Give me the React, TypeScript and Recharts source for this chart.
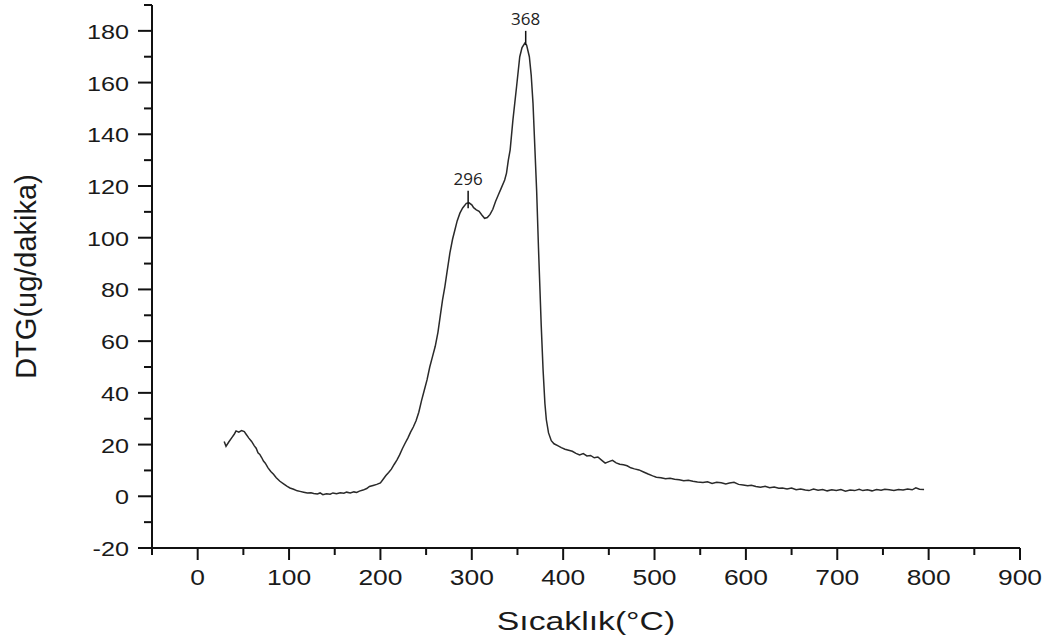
import { LineChart, Line, XAxis, YAxis, ReferenceLine } from 'recharts';

// Sıcaklık (°C)
const temps = [
  29, 31, 34, 37, 40, 42, 45, 48, 51, 53, 56, 59, 62, 64, 66, 68, 70, 72, 74, 77,
  80, 83, 86, 90, 94, 98, 101, 105, 109, 112, 116, 120, 124, 127, 131, 134, 137, 141, 145, 148,
  152, 156, 160, 163, 167, 171, 174, 177, 181, 185, 188, 192, 196, 200, 203, 206, 209, 212, 215, 218,
  221, 224, 227, 230, 233, 236, 239, 242, 245, 248, 251, 254, 257, 260, 263, 266, 268, 270.5, 273, 276,
  279, 281.5, 284, 287, 290, 294, 297, 300, 302, 305, 308, 311, 314, 317, 320, 323, 326, 329, 332, 336,
  338, 340, 342, 345, 349, 352.5, 355, 358, 360, 363, 365, 367, 369, 371, 373, 374.5, 376, 378, 380, 381.6,
  384, 387, 390, 394, 398, 402, 406, 410, 414, 418, 422, 426, 430, 434, 438, 442, 446, 450, 454, 458,
  462, 466, 470, 474, 478, 483, 488, 493, 498, 502, 507, 512, 517, 522, 527, 532, 537, 542, 547, 553,
  558, 563, 568, 573, 578, 582, 587, 592, 597, 602, 606, 611, 616, 621, 626, 631, 636, 640, 645, 650,
  655, 660, 665, 669, 674, 679, 684, 689, 694, 699, 704, 709, 714, 719, 724, 728, 733, 738, 743, 748,
  752, 757, 762, 767, 772, 777, 782, 786, 790, 795,
];

// DTG (ug/dakika)
const dtg = [
  21.2, 19.3, 21, 22.5, 24, 25.3, 24.8, 25.4, 25, 24, 22.5, 21.2, 19.5, 18.6, 16.8, 16.2, 15, 13.6, 12.8, 11,
  9.6, 8.5, 7.2, 5.8, 4.8, 3.8, 3.2, 2.7, 2.1, 1.9, 1.6, 1.3, 1.4, 1.1, 0.9, 1.3, 0.6, 1.0, 0.8, 1.3,
  1.0, 1.4, 1.2, 1.6, 1.3, 1.7, 1.5, 2.0, 2.4, 3.0, 3.8, 4.2, 4.6, 5.2, 6.6, 8.0, 9.2, 10.5, 12.3, 14.0,
  16.0, 18.4, 20.5, 22.5, 24.8, 26.8, 29.2, 32.5, 37, 41, 45, 50, 54, 58, 63.5, 71, 76, 81, 87, 94,
  99.5, 103, 106.5, 109.5, 111.5, 113.3, 113.5, 112.7, 111.6, 110.8, 110.2, 108.8, 107.5, 107.8, 109, 111, 114, 116.5, 119, 122.3,
  125, 130, 134, 145.5, 158.4, 170, 173.5, 175.2, 174.5, 170, 163, 152, 135, 118, 96, 81, 66, 49, 36, 29.6,
  24.5, 21.5, 20.3, 19.6, 18.8, 18.2, 17.8, 17.4, 16.6, 16.0, 16.5, 15.6, 15.8, 14.9, 15.2, 14.0, 12.8, 13.4, 13.9, 12.9,
  12.4, 12.2, 11.8, 11.0, 10.6, 10.2, 9.4, 8.6, 7.9, 7.4, 7.2, 6.8, 7.0, 6.6, 6.4, 6.0, 6.2, 5.8, 5.5, 5.3,
  5.6, 5.0, 5.4, 5.2, 4.8, 5.1, 5.4, 4.6, 4.4, 4.1, 4.3, 3.8, 3.5, 3.9, 3.3, 3.6, 3.1, 3.2, 2.8, 3.2,
  2.5, 2.8, 2.4, 2.2, 2.8, 2.3, 2.6, 2.1, 2.5, 2.2, 2.6, 2.0, 2.4, 2.2, 2.7, 2.2, 2.5, 2.1, 2.6, 2.3,
  2.7, 2.5, 2.2, 2.6, 2.4, 2.8, 2.5, 3.3, 2.7, 2.6,
];

const xTicks = [-50, 0, 50, 100, 150, 200, 250, 300, 350, 400, 450, 500, 550, 600, 650, 700, 750, 800, 850, 900];
const xMajor = [0, 100, 200, 300, 400, 500, 600, 700, 800, 900];
const yTicks = [-20, -10, 0, 10, 20, 30, 40, 50, 60, 70, 80, 90, 100, 110, 120, 130, 140, 150, 160, 170, 180, 190];
const yMajor = [-20, 0, 20, 40, 60, 80, 100, 120, 140, 160, 180];

// peak markers
const peakLabels = ['296', '368'];
const peakX = [296, 359];
const peakLow = [111.4, 174.5];
const peakHigh = [118.2, 180];

const data = temps.map((t, i) => ({ t, v: dtg[i] }));

const FONT = '"Liberation Sans", Arial, sans-serif';
const INK = '#111';

function XTick(props: any) {
  const { x, y, payload } = props;
  const major = xMajor.includes(payload.value);
  return (
    <g>
      <line x1={x} y1={y} x2={x} y2={y + (major ? 12 : 7)} stroke={INK} strokeWidth={2} />
      {major && (
        <text
          transform={`translate(${x},${y + 37}) scale(1.2,1)`}
          textAnchor="middle"
          fontSize={22}
          fontFamily={FONT}
          fill="#1a1a1a"
        >
          {payload.value}
        </text>
      )}
    </g>
  );
}

function YTick(props: any) {
  const { x, y, payload } = props;
  const major = yMajor.includes(payload.value);
  return (
    <g>
      <line x1={x - (major ? 14 : 8)} y1={y} x2={x} y2={y} stroke={INK} strokeWidth={2} />
      {major && (
        <text
          transform={`translate(${x - 23},${y + 8}) scale(1.2,1)`}
          textAnchor="end"
          fontSize={21}
          fontFamily={FONT}
          fill="#1a1a1a"
        >
          {payload.value}
        </text>
      )}
    </g>
  );
}

function XTitle(props: any) {
  const { viewBox } = props;
  const cx = viewBox.x + viewBox.width / 2;
  return (
    <text
      transform={`translate(${cx},${viewBox.y + 82}) scale(1.35,1)`}
      textAnchor="middle"
      fontSize={25}
      fontFamily={FONT}
      fill="#1a1a1a"
    >
      Sıcaklık(°C)
    </text>
  );
}

function YTitle(props: any) {
  const { viewBox } = props;
  const cy = viewBox.y + viewBox.height / 2;
  return (
    <text
      transform={`translate(${viewBox.x + 36},${cy}) rotate(-90)`}
      textAnchor="middle"
      fontSize={29}
      fontFamily={FONT}
      fill="#1a1a1a"
    >
      DTG(ug/dakika)
    </text>
  );
}

export default function App() {
  return (
    <div style={{ position: 'absolute', left: 0, top: 0, width: 1054, height: 644, background: '#fff' }}>
      <LineChart width={1054} height={644} data={data} margin={{ top: 5, right: 34, bottom: 0, left: 0 }}>
        <XAxis
          dataKey="t"
          type="number"
          domain={[-50, 900]}
          ticks={xTicks}
          interval={0}
          height={96}
          tickSize={0}
          tickMargin={0}
          tickLine={false}
          tick={<XTick />}
          axisLine={{ stroke: INK, strokeWidth: 2 }}
          label={<XTitle />}
        />
        <YAxis
          type="number"
          domain={[-20, 190]}
          ticks={yTicks}
          interval={0}
          width={152}
          tickSize={0}
          tickMargin={0}
          tickLine={false}
          tick={<YTick />}
          axisLine={{ stroke: INK, strokeWidth: 2 }}
          label={<YTitle />}
        />
        <Line
          type="linear"
          dataKey="v"
          stroke="#2a2a2a"
          strokeWidth={1.5}
          dot={false}
          isAnimationActive={false}
        />
        {peakLabels.map((lab, i) => (
          <ReferenceLine
            key={lab}
            segment={[{ x: peakX[i], y: peakLow[i] }, { x: peakX[i], y: peakHigh[i] }]}
            stroke="#111"
            strokeWidth={1.5}
            label={{ value: lab, position: 'top', offset: 6, fontSize: 17, fontFamily: '"Open Sans", sans-serif', fill: '#222' }}
          />
        ))}
      </LineChart>
    </div>
  );
}
